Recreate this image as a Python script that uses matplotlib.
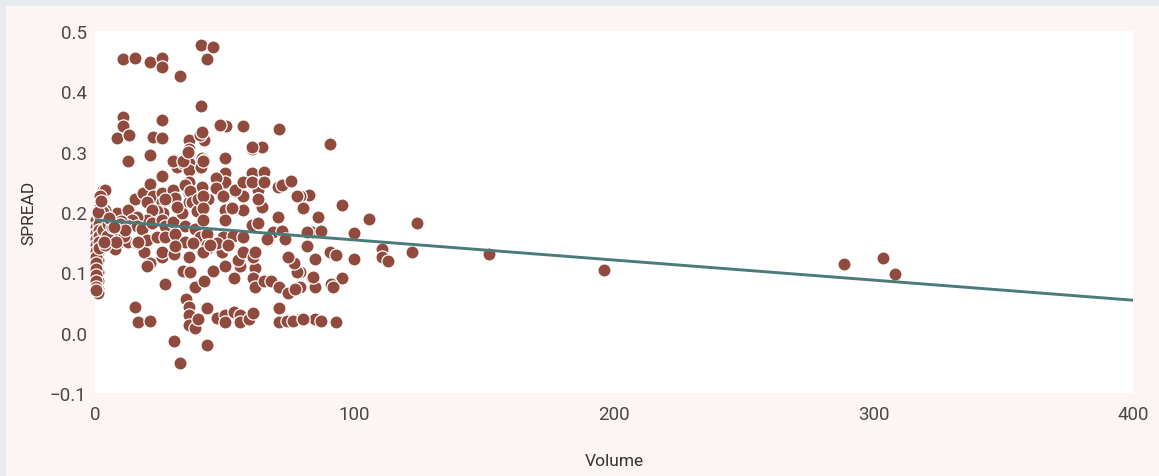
import matplotlib.pyplot as plt
from matplotlib.patches import Rectangle

plt.rcParams['font.family'] = ['Roboto', 'DejaVu Sans']

# 读图估计的散点数据 (Volume, SPREAD)
volume = [
    10.8, 15.4, 21.2, 25.8, 25.8, 32.8, 40.8, 45.5, 43.2, 40.8,
    10.8, 10.8, 8.5, 13.1, 22.4, 25.8, 25.8, 36.2, 36.2, 36.2,
    40.8, 42.0, 47.8, 50.5, 57.0, 60.5, 64.4, 71.0, 21.2, 90.6,
    13.1,
    3.1, 2.7, 8.5, 13.1, 15.4, 18.5, 21.2, 22.4, 25.8, 25.8,
    25.8, 30.4, 31.6, 33.9, 30.4, 30.4, 36.2, 36.2, 36.2, 36.2,
    36.2, 40.8, 41.2, 42.0, 41.2, 41.2, 43.5, 47.0, 47.0, 50.1,
    50.1, 50.1, 48.9, 53.6, 57.0, 57.0, 57.0, 60.5, 60.5, 60.5,
    62.8, 62.8, 65.1, 65.1, 64.4, 70.5, 70.5,
    82.5, 79.0, 80.2, 95.2, 86.0, 105.6, 124.0, 83.6, 87.0, 99.8,
    81.3, 79.0, 84.8, 90.6, 93.0, 99.8, 110.6, 110.6, 112.9, 122.0,
    151.8, 196.0, 83.6, 95.2, 91.0, 91.7, 84.8, 79.0, 79.0, 80.2,
    84.8, 87.0, 93.0,
    288.6, 303.7, 308.3,
    30.4, 43.2, 32.8,
    27.0, 15.4, 16.6, 21.2, 35.1, 36.2, 36.2, 36.2, 38.5, 39.7,
    43.2, 47.0, 50.1, 50.1, 53.6, 55.9, 55.9, 59.3, 60.9, 70.9,
    70.9, 74.0, 76.3, 80.2,
    1.2, 1.2, 1.2, 1.2, 1.2, 33.9, 36.6, 38.5, 42.0, 45.5,
    50.1, 53.6, 55.9, 61.7, 60.9, 61.7, 65.1, 67.8, 70.9, 74.4,
    77.1, 77.8, 76.7, 74.4, 84.0,
    18.9, 21.2, 20.0, 25.8, 25.8, 30.4, 36.2, 41.2, 43.5, 48.9,
    51.3, 55.1, 57.0, 60.9, 66.7, 73.2, 81.7,
    3.9, 1.9, 1.9, 3.9, 0.4, 1.9, 4.6, 4.6, 1.9, 5.0,
    6.9, 8.9, 12.7, 20.0, 30.0, 30.8, 34.7, 36.6, 37.4, 27.0,
    26.2, 23.9, 22.0, 20.0, 16.2, 14.3, 12.3, 16.2, 18.1, 22.0,
    25.8, 27.0, 30.0, 33.5, 31.6, 39.3, 39.7, 34.7, 38.5,
    5.8, 8.9, 12.7, 16.2, 20.0, 23.9, 27.0, 30.8, 34.7, 40.5,
    1.9, 40.5, 12.7, 30.0, 33.9, 35.8, 40.8,
    48.2, 41.2, 41.6, 50.1, 46.6, 46.6, 54.0, 57.0, 60.5, 65.1,
    62.8, 49.3, 41.6, 72.0, 75.5, 77.8, 50.1, 52.8, 41.6, 50.1,
    41.6, 60.5, 62.8, 68.6, 72.0, 81.7, 43.2, 49.3, 53.2, 57.0,
    66.3, 73.2, 43.2, 47.0, 51.3,
    1.2, 1.2, 1.2, 5.8, 7.7, 16.6, 30.8, 37.8, 41.6, 44.3,
    61.7,
    0.5, 0.5, 0.5, 0.5, 0.5, 0.5, 0.5, 0.5, 0.5, 0.5,
    0.5, 0.5, 0.5, 1.5, 1.5, 1.5, 1.5, 1.5, 1.5,
    3.0, 5.0, 6.0, 7.0, 9.0, 10.0, 11.0, 4.0,
    2.0, 3.0, 1.0, 2.5,
    4.5, 6.5, 8.0, 9.5, 11.5, 3.5, 5.5, 7.5,
]

spread = [
    0.454, 0.456, 0.448, 0.456, 0.441, 0.426, 0.476, 0.473, 0.454, 0.376,
    0.358, 0.343, 0.322, 0.327, 0.325, 0.352, 0.322, 0.320, 0.305, 0.297,
    0.330, 0.320, 0.345, 0.343, 0.343, 0.305, 0.308, 0.337, 0.295, 0.313,
    0.284,
    0.237, 0.226, 0.199, 0.204, 0.221, 0.232, 0.247, 0.227, 0.259, 0.232,
    0.216, 0.287, 0.275, 0.282, 0.237, 0.221, 0.282, 0.270, 0.249, 0.232,
    0.216, 0.275, 0.290, 0.287, 0.242, 0.216, 0.221, 0.257, 0.242, 0.290,
    0.265, 0.249, 0.226, 0.235, 0.249, 0.226, 0.204, 0.307, 0.265, 0.249,
    0.237, 0.221, 0.267, 0.249, 0.209, 0.242, 0.192,
    0.229, 0.226, 0.206, 0.211, 0.192, 0.189, 0.182, 0.167, 0.168, 0.166,
    0.144, 0.101, 0.122, 0.134, 0.128, 0.122, 0.139, 0.126, 0.119, 0.133,
    0.131, 0.104, 0.091, 0.091, 0.081, 0.075, 0.075, 0.076, 0.022, 0.022,
    0.022, 0.020, 0.017,
    0.113, 0.124, 0.098,
    -0.013, -0.020, -0.050,
    0.080, 0.043, 0.018, 0.020, 0.056, 0.043, 0.030, 0.013, 0.008, 0.022,
    0.041, 0.025, 0.030, 0.017, 0.035, 0.030, 0.018, 0.023, 0.032, 0.041,
    0.018, 0.020, 0.020, 0.022,
    0.121, 0.101, 0.085, 0.073, 0.066, 0.103, 0.100, 0.075, 0.085, 0.103,
    0.110, 0.091, 0.110, 0.108, 0.091, 0.075, 0.086, 0.085, 0.075, 0.066,
    0.073, 0.101, 0.116, 0.126, 0.093,
    0.133, 0.116, 0.110, 0.126, 0.134, 0.131, 0.126, 0.133, 0.141, 0.133,
    0.144, 0.121, 0.133, 0.126, 0.154, 0.154, 0.144,
    0.237, 0.226, 0.212, 0.204, 0.187, 0.187, 0.187, 0.174, 0.166, 0.159,
    0.176, 0.163, 0.204, 0.216, 0.237, 0.224, 0.245, 0.234, 0.216, 0.221,
    0.199, 0.201, 0.204, 0.187, 0.191, 0.187, 0.179, 0.176, 0.171, 0.182,
    0.187, 0.176, 0.184, 0.199, 0.209, 0.201, 0.221, 0.176, 0.171,
    0.149, 0.149, 0.151, 0.149, 0.154, 0.158, 0.158, 0.163, 0.151, 0.159,
    0.143, 0.328, 0.284, 0.284, 0.284, 0.300, 0.274,
    0.345, 0.332, 0.284, 0.289, 0.257, 0.240, 0.237, 0.250, 0.250, 0.250,
    0.222, 0.226, 0.226, 0.245, 0.252, 0.226, 0.204, 0.207, 0.207, 0.187,
    0.187, 0.179, 0.181, 0.167, 0.169, 0.167, 0.163, 0.159, 0.161, 0.158,
    0.156, 0.156, 0.146, 0.149, 0.146,
    0.154, 0.143, 0.133, 0.143, 0.138, 0.151, 0.143, 0.149, 0.134, 0.146,
    0.133,
    0.187, 0.175, 0.165, 0.155, 0.145, 0.135, 0.125, 0.115, 0.105, 0.095,
    0.085, 0.075, 0.070, 0.195, 0.180, 0.170, 0.160, 0.150, 0.140,
    0.170, 0.180, 0.165, 0.155, 0.170, 0.185, 0.160, 0.145,
    0.210, 0.200, 0.200, 0.218,
    0.160, 0.175, 0.150, 0.180, 0.170, 0.150, 0.190, 0.175,
]

# 回归线参数 (截距, 斜率)
fit_intercept = 0.187
fit_slope = -0.000333

x_ticks = [0, 100, 200, 300, 400]
y_ticks = [-0.1, 0.0, 0.1, 0.2, 0.3, 0.4, 0.5]

fig = plt.figure(figsize=(11.59, 4.77), dpi=100, facecolor='#e6eced')
bg = Rectangle((6 / 1159, 0), 1, 1 - 7 / 477, transform=fig.transFigure,
               facecolor='#fdf5f3', edgecolor='none', zorder=-10)
fig.add_artist(bg)
ax = fig.add_axes([95 / 1159, 1 - 394 / 477, (1133 - 95) / 1159, (394 - 32) / 477])
ax.set_zorder(5)
ax.set_facecolor('white')

ax.scatter(volume, spread, s=90, color='#914b3e', edgecolor='white', linewidth=0.9,
           zorder=3, clip_on=False)
ax.axline((0, fit_intercept), slope=fit_slope, color='#4a7b7a', linewidth=2.1, zorder=4)

ax.set_xlim(0, 400)
ax.set_ylim(-0.1, 0.5)
ax.set_xticks(x_ticks)
ax.set_yticks(y_ticks)
ax.set_yticklabels(['{:.1f}'.format(v).replace('-', '\u2212') for v in y_ticks])
ax.tick_params(length=0, labelsize=13.5, labelcolor='#484848', pad=6)
ax.tick_params(axis='x', pad=9)
for s in ax.spines.values():
    s.set_visible(False)

ax.set_xlabel('Volume', fontsize=12.5, color='#333333', labelpad=21)
ax.set_ylabel('SPREAD', fontsize=12.5, color='#333333', labelpad=10)

plt.savefig('out.png', dpi=100, facecolor=fig.get_facecolor())
